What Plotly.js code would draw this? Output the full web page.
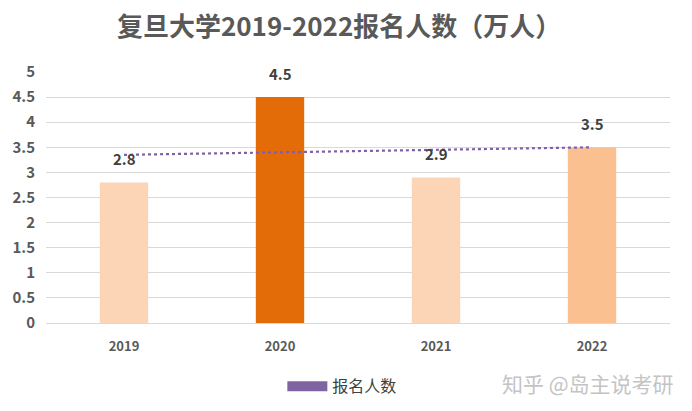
<!DOCTYPE html>
<html>
<head>
<meta charset="utf-8">
<script src="https://cdn.plot.ly/plotly-3.0.1.min.js"></script>
<style>html,body{margin:0;padding:0;background:#fff;}#chart{width:692px;height:411px;}</style>
</head>
<body>
<div id="chart"></div>
<script>
const years = ['2019', '2020', '2021', '2022'];
const applicants = [2.8, 4.5, 2.9, 3.5];
const barColors = ['#FBD5B5', '#E36C09', '#FBD5B5', '#FAC090'];
const trendYears = ['2019', '2022'];
const trendValues = [3.35, 3.5];
const yTicks = [0, 0.5, 1, 1.5, 2, 2.5, 3, 3.5, 4, 4.5, 5];
const seriesName = '报名人数';
const titleText = '复旦大学2019-2022报名人数（万人）';
const watermark = '知乎 @岛主说考研';

const FONT = '"Noto Sans CJK SC", "Open Sans", sans-serif';

const traces = [
  {
    type: 'bar', x: years, y: applicants,
    marker: {color: barColors},
    width: 0.31, showlegend: false, hoverinfo: 'skip'
  },
  {
    type: 'scatter', mode: 'lines', x: trendYears, y: trendValues,
    line: {color: '#7F60A8', width: 2.2, dash: 'dot'},
    showlegend: false, hoverinfo: 'skip'
  },
  {
    type: 'scatter', mode: 'lines', x: [years[0]], y: [null],
    name: seriesName,
    line: {color: '#8064A2', width: 10},
    showlegend: true
  }
];

const annotations = [];
for (let i = 0; i < years.length; i++) {
  annotations.push({
    x: i, y: applicants[i], xref: 'x', yref: 'y',
    text: '<b>' + applicants[i] + '</b>', showarrow: false,
    xanchor: 'center', yanchor: 'bottom',
    yshift: 11, font: {family: FONT, size: 15, color: '#404040'}
  });
}
annotations.push({
  xref: 'paper', yref: 'paper', x: 1.01, y: -0.24, xanchor: 'right', yanchor: 'middle',
  text: watermark, showarrow: false,
  font: {family: FONT, size: 21, color: '#c4c4c4'}
});

const layout = {
  width: 692, height: 411,
  margin: {l: 46, r: 22, t: 72, b: 88},
  paper_bgcolor: '#ffffff', plot_bgcolor: '#ffffff',
  title: {
    text: '<b>' + titleText + '</b>',
    x: 0.49, xanchor: 'center', y: 0.935, yanchor: 'middle',
    font: {family: FONT, size: 26, color: '#595959'}
  },
  xaxis: {
    type: 'category', range: [-0.5, 3.5],
    showgrid: false, showline: true, linecolor: '#d9d9d9', linewidth: 1,
    ticks: '', zeroline: false, automargin: false,
    tickfont: {family: FONT, size: 13, color: '#595959', weight: 'bold'},
    ticklabelstandoff: 11
  },
  yaxis: {
    range: [0, 5], tickvals: yTicks, ticktext: yTicks.map(String),
    showgrid: true, gridcolor: '#d9d9d9', gridwidth: 1,
    zeroline: false, showline: false, ticks: '', automargin: false,
    tickfont: {family: FONT, size: 15, color: '#595959', weight: 'bold'},
    ticklabelstandoff: 10
  },
  showlegend: true,
  legend: {
    orientation: 'h', xref: 'container', yref: 'container',
    x: 0.408, xanchor: 'left', y: 0.06, yanchor: 'middle',
    font: {family: FONT, size: 16, color: '#404040'},
    itemwidth: 40, bgcolor: 'rgba(0,0,0,0)'
  },
  annotations: annotations,
  bargap: 0.69
};

Plotly.newPlot('chart', traces, layout, {displayModeBar: false, staticPlot: true});
</script>
</body>
</html>
